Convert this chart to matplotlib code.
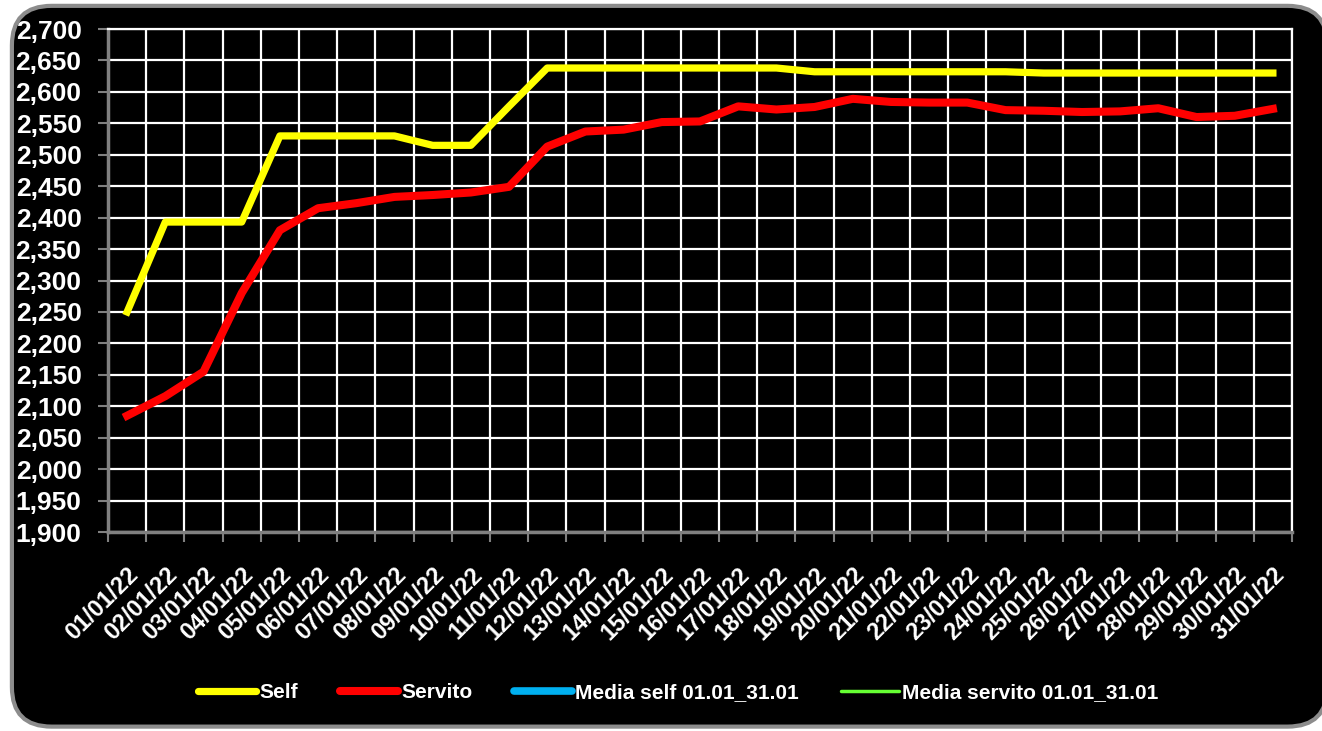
import matplotlib.pyplot as plt
from matplotlib.patches import FancyBboxPatch
from matplotlib.ticker import FuncFormatter, MultipleLocator

# fuel prices, january 2022
giorni = ["%02d/01/22" % d for d in range(1, 32)]
self_prezzi = [2.250, 2.393, 2.393, 2.393, 2.530, 2.530, 2.530, 2.530, 2.515, 2.515,
               2.577, 2.638, 2.638, 2.638, 2.638, 2.638, 2.638, 2.638, 2.632, 2.632,
               2.632, 2.632, 2.632, 2.632, 2.630, 2.630, 2.630, 2.630, 2.630, 2.630, 2.630]
servito_prezzi = [2.085, 2.116, 2.155, 2.280, 2.380, 2.415, 2.423, 2.433, 2.436, 2.440,
                  2.449, 2.513, 2.537, 2.540, 2.552, 2.553, 2.577, 2.572, 2.576, 2.589,
                  2.584, 2.583, 2.583, 2.571, 2.570, 2.568, 2.569, 2.574, 2.560, 2.562, 2.573]
media_self = []
media_servito = []

plt.rcParams['font.family'] = ['Liberation Sans', 'DejaVu Sans']

fig = plt.figure(figsize=(13.22, 7.31), dpi=100)
fig.patch.set_facecolor('white')
bordo = FancyBboxPatch((0.009, 0.006), 0.995, 0.986, boxstyle="round,pad=0,rounding_size=0.03",
                       transform=fig.transFigure, facecolor='black', edgecolor='#8c8c8c',
                       linewidth=3, mutation_aspect=1322 / 731, zorder=-5)
fig.patches.append(bordo)

ax = fig.add_axes([0.0817, 0.2722, 0.8956, 0.6881])
ax.set_facecolor('black')

x = list(range(len(giorni)))
ax.plot(x, self_prezzi, color='#ffff00', linewidth=5.2, label='Self', zorder=3)
ax.plot(x, servito_prezzi, color='#ff0000', linewidth=5.8, label='Servito', zorder=3)
ax.plot(x[:len(media_self)], media_self, color='#00b0f0', linewidth=5.5,
        label='Media self 01.01_31.01')
ax.plot(x[:len(media_servito)], media_servito, color='#66ff33', linewidth=2.5,
        label='Media servito 01.01_31.01')

ax.set_xlim(-0.5, 30.5)
ax.set_ylim(1.9, 2.7)
ax.yaxis.set_major_locator(MultipleLocator(0.05))
ax.yaxis.set_major_formatter(FuncFormatter(lambda v, p: ("%.3f" % v).replace('.', ',')))

ax.set_xticks(x)
ax.set_xticklabels(giorni, rotation=45, ha='right', rotation_mode='anchor',
                   fontsize=17, fontweight='bold', color='white')
ax.set_xticks([i - 0.5 for i in range(len(giorni) + 1)], minor=True)
ax.tick_params(axis='x', which='major', length=0, pad=22)
ax.tick_params(axis='x', which='minor', length=7, width=1.5, color='#808080', direction='out')
ax.tick_params(axis='y', length=7, width=1.5, color='#808080', direction='out',
               labelsize=19, labelcolor='white', pad=12)
for t in ax.get_yticklabels():
    t.set_fontweight('bold')

ax.grid(True, which='minor', axis='x', color='white', linewidth=1.6)
ax.grid(True, which='major', axis='y', color='white', linewidth=1.6)
ax.set_axisbelow(True)
for s in ['top', 'right']:
    ax.spines[s].set_color('white')
    ax.spines[s].set_linewidth(1.6)
for s in ['left', 'bottom']:
    ax.spines[s].set_color('#808080')
    ax.spines[s].set_linewidth(2.5)

leg = fig.legend(loc='center', bbox_to_anchor=(0.513, 0.052), ncol=4, frameon=False,
                 handlelength=2.8, handletextpad=0.15, columnspacing=2.0,
                 prop={'size': 15, 'weight': 'bold'})
for t in leg.get_texts():
    t.set_color('white')
for h in leg.get_lines():
    h.set_solid_capstyle('round')

fig.savefig('out.png', dpi=100, facecolor=fig.get_facecolor())
